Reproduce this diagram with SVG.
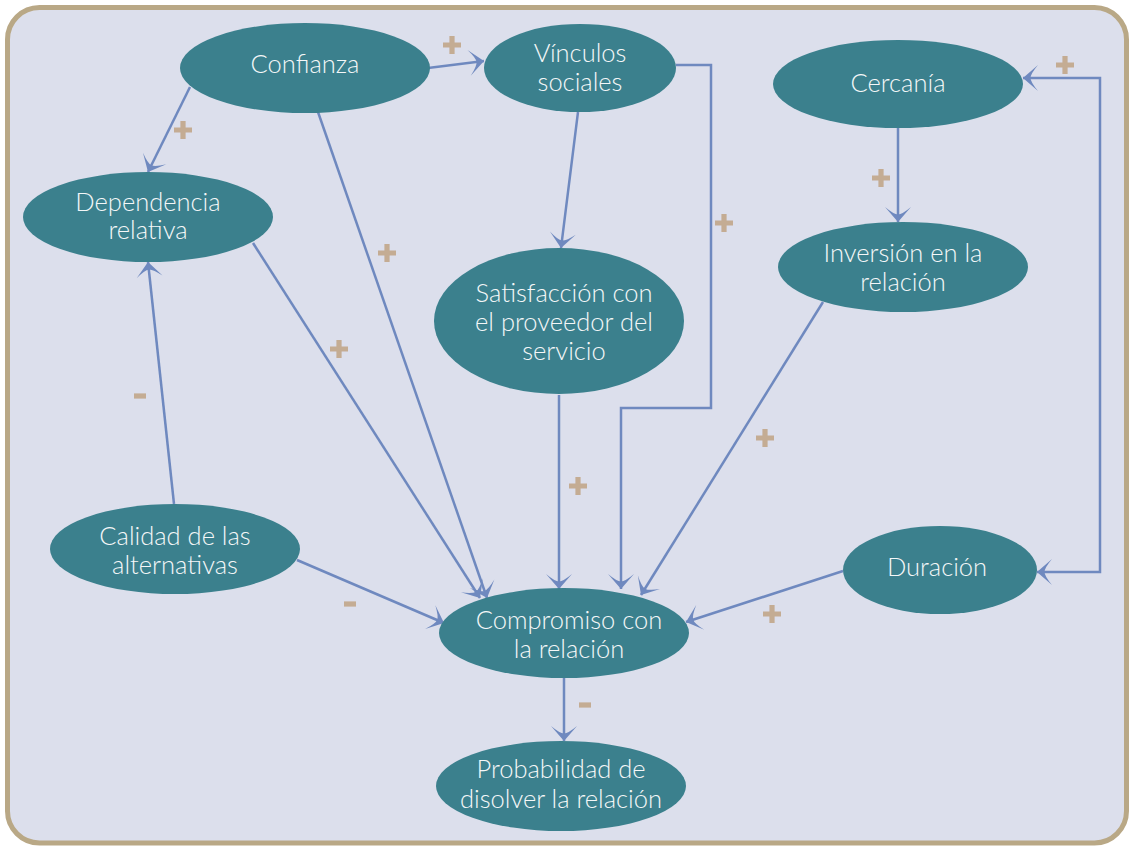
<svg xmlns="http://www.w3.org/2000/svg" width="1129" height="846" viewBox="0 0 1129 846">
<defs>
<style>
.node ellipse{fill:#3b808d}
.node text{fill:#f4f7f8;font-family:"Lato","Open Sans","DejaVu Sans",sans-serif;font-weight:300;font-size:25.5px;text-anchor:middle}
.conn path{fill:none;stroke:#6f89bf;stroke-width:2.5}
.sign{fill:#c4ac93}
</style>
<marker id="arr" viewBox="0 0 17 28" markerWidth="17" markerHeight="28" refX="16" refY="14" orient="auto-start-reverse" markerUnits="userSpaceOnUse">
<path d="M16,14 L1,1 Q8.5,10 8.5,14 Q8.5,18 1,27 Z" fill="#6f89bf"/>
</marker>
<path id="plus" d="M-9,-2.6H9V2.6H-9Z M-2.6,-9H2.6V9H-2.6Z"/>
<path id="minus" d="M-6,-2.6H6V2.6H-6Z"/>
</defs>
<rect x="0" y="0" width="1129" height="846" fill="#ffffff"/>
<rect x="7.5" y="7.5" width="1119" height="835.5" rx="32" fill="#dcdfec" stroke="#b9a886" stroke-width="5"/>

<g class="conn">
<path d="M428,68 L484,61" marker-end="url(#arr)"/>
<path d="M190,87 L148,172" marker-end="url(#arr)"/>
<path d="M318,112 L487,598" marker-end="url(#arr)"/>
<path d="M578,112 L561,248" marker-end="url(#arr)"/>
<path d="M676,65 H711 V408 H621 V589" marker-end="url(#arr)"/>
<path d="M898,128 V222" marker-end="url(#arr)"/>
<path d="M1023,78 H1100 V572 H1037" marker-start="url(#arr)" marker-end="url(#arr)"/>
<path d="M253,243 L480,598" marker-end="url(#arr)"/>
<path d="M559,395 V589" marker-end="url(#arr)"/>
<path d="M823,302 L641,595" marker-end="url(#arr)"/>
<path d="M174,504 L148,262" marker-end="url(#arr)"/>
<path d="M297,560 L444,623" marker-end="url(#arr)"/>
<path d="M843,571 L686,622" marker-end="url(#arr)"/>
<path d="M564,678 V741" marker-end="url(#arr)"/>
</g>

<g id="signs" class="sign">
<use href="#plus" x="452" y="45"/>
<use href="#plus" x="183" y="130"/>
<use href="#plus" x="387" y="253"/>
<use href="#plus" x="339" y="349"/>
<use href="#plus" x="724" y="223"/>
<use href="#plus" x="881" y="178"/>
<use href="#plus" x="1065" y="65"/>
<use href="#plus" x="578" y="486"/>
<use href="#plus" x="765" y="438"/>
<use href="#plus" x="772" y="614"/>
<use href="#minus" x="140" y="396"/>
<use href="#minus" x="350" y="604"/>
<use href="#minus" x="585" y="705"/>
</g>

<g id="confianza" class="node"><ellipse cx="305" cy="68" rx="125" ry="45"/><text x="305" y="73">Confianza</text></g>
<g id="vinculos" class="node"><ellipse cx="580" cy="68" rx="96" ry="44"/><text x="580" y="62">Vínculos</text><text x="580" y="91">sociales</text></g>
<g id="cercania" class="node"><ellipse cx="898" cy="84" rx="125" ry="44"/><text x="898" y="92">Cercanía</text></g>
<g id="dependencia" class="node"><ellipse cx="148" cy="217" rx="125" ry="45"/><text x="148" y="211">Dependencia</text><text x="148" y="239">relativa</text></g>
<g id="satisfaccion" class="node"><ellipse cx="559" cy="321" rx="125" ry="73"/><text x="564" y="302">Satisfacción con</text><text x="564" y="331">el proveedor del</text><text x="564" y="360">servicio</text></g>
<g id="inversion" class="node"><ellipse cx="903" cy="267" rx="125" ry="45"/><text x="903" y="262">Inversión en la</text><text x="903" y="291">relación</text></g>
<g id="calidad" class="node"><ellipse cx="175" cy="549" rx="125" ry="45"/><text x="175" y="545">Calidad de las</text><text x="175" y="574">alternativas</text></g>
<g id="duracion" class="node"><ellipse cx="940" cy="570" rx="97" ry="44"/><text x="937" y="576">Duración</text></g>
<g id="compromiso" class="node"><ellipse cx="564" cy="633" rx="125" ry="45"/><text x="569" y="629">Compromiso con</text><text x="569" y="658">la relación</text></g>
<g id="probabilidad" class="node"><ellipse cx="561" cy="786" rx="125" ry="45"/><text x="561" y="778">Probabilidad de</text><text x="561" y="808">disolver la relación</text></g>
</svg>
